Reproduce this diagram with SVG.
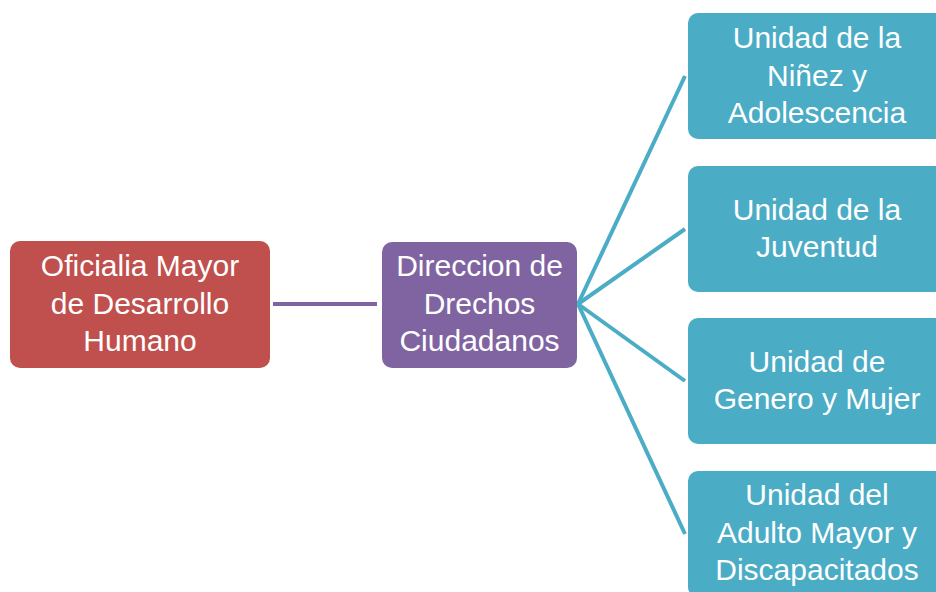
<svg xmlns="http://www.w3.org/2000/svg" width="936" height="592" viewBox="0 0 936 592">
<style>
.t{font-family:"Liberation Sans",Arial,sans-serif;font-size:30px;fill:#ffffff;text-anchor:middle}
.red{fill:#C0504D}
.pur{fill:#8064A2}
.teal{fill:#4BACC6}
.c1{stroke:#8064A2;stroke-width:4;fill:none}
.c2{stroke:#4BACC6;stroke-width:4;fill:none}
</style>
<rect width="936" height="592" fill="#ffffff"/>
<g id="connectors">
<line class="c1" x1="273" y1="304" x2="377" y2="304"/>
<line class="c2" x1="578" y1="304" x2="685" y2="76"/>
<line class="c2" x1="578" y1="304" x2="685" y2="229"/>
<line class="c2" x1="578" y1="304" x2="685" y2="381"/>
<line class="c2" x1="578" y1="304" x2="685" y2="534"/>
</g>
<g id="oficialia">
<rect class="red" x="10" y="241" width="260" height="127" rx="10"/>
<text class="t" x="140" y="276">Oficialia Mayor</text>
<text class="t" x="140" y="314">de Desarrollo</text>
<text class="t" x="140" y="351">Humano</text>
</g>
<g id="direccion">
<rect class="pur" x="382" y="242" width="195" height="126" rx="10"/>
<text class="t" x="479.5" y="276">Direccion de</text>
<text class="t" x="479.5" y="314">Drechos</text>
<text class="t" x="479.5" y="351">Ciudadanos</text>
</g>
<g id="ninez">
<rect class="teal" x="688" y="13" width="260" height="126" rx="10"/>
<text class="t" x="817" y="48">Unidad de la</text>
<text class="t" x="817" y="86">Niñez y</text>
<text class="t" x="817" y="123">Adolescencia</text>
</g>
<g id="juventud">
<rect class="teal" x="688" y="166" width="260" height="126" rx="10"/>
<text class="t" x="817" y="220">Unidad de la</text>
<text class="t" x="817" y="257">Juventud</text>
</g>
<g id="genero">
<rect class="teal" x="688" y="318" width="260" height="126" rx="10"/>
<text class="t" x="817" y="372">Unidad de</text>
<text class="t" x="817" y="409">Genero y Mujer</text>
</g>
<g id="adulto">
<rect class="teal" x="688" y="471" width="260" height="126" rx="10"/>
<text class="t" x="817" y="505">Unidad del</text>
<text class="t" x="817" y="543">Adulto Mayor y</text>
<text class="t" x="817" y="580">Discapacitados</text>
</g>
</svg>
